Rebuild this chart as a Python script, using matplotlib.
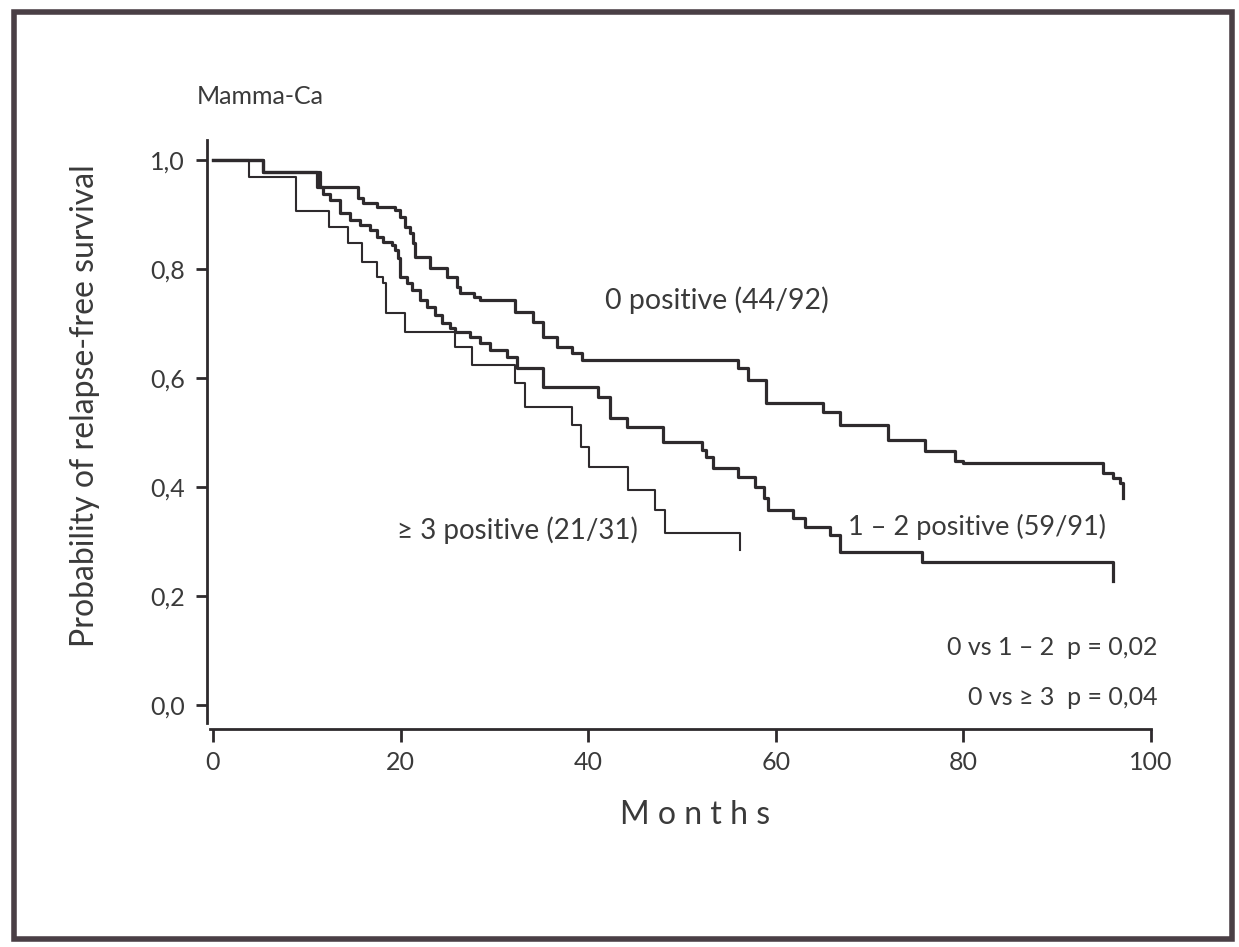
import matplotlib
matplotlib.use("Agg")
import matplotlib.pyplot as plt
from matplotlib.patches import Rectangle

plt.rcParams['font.family'] = ['Lato', 'DejaVu Sans']

# 0 positive (44/92)
t_neg = [0, 5.3, 11.4, 15.5, 16.0, 17.5, 19.4, 19.9, 20.5, 21.0,
         21.3, 21.5, 23.1, 25.0, 26.0, 26.3, 27.8, 28.5, 32.2, 34.1,
         35.2, 36.7, 38.3, 39.3, 56.0, 57.0, 59.0, 65.0, 66.8, 72.0,
         75.9, 79.1, 80.0, 94.9, 96.0, 96.7, 97.0]
s_neg = [1.0, 0.978, 0.951, 0.930, 0.921, 0.914, 0.908, 0.895, 0.877, 0.866,
         0.848, 0.822, 0.802, 0.785, 0.767, 0.756, 0.749, 0.743, 0.721, 0.703,
         0.675, 0.657, 0.646, 0.633, 0.618, 0.596, 0.554, 0.538, 0.514, 0.486,
         0.466, 0.448, 0.444, 0.426, 0.417, 0.407, 0.380]

# 1-2 positive (59/91)
t_12 = [0, 5.3, 11.1, 11.7, 12.5, 13.5, 14.6, 15.7, 16.7, 17.5,
        18.1, 19.1, 19.4, 19.7, 19.9, 20.7, 21.2, 22.1, 22.8, 23.7,
        24.4, 25.3, 25.8, 27.4, 28.5, 29.5, 31.3, 32.4, 35.2, 41.0,
        42.3, 44.1, 48.0, 52.1, 52.6, 53.3, 56.0, 57.8, 58.8, 59.2,
        61.8, 63.1, 65.8, 66.8, 75.6, 96.0]
s_12 = [1.0, 0.978, 0.951, 0.938, 0.927, 0.903, 0.890, 0.881, 0.872, 0.859,
        0.850, 0.844, 0.835, 0.820, 0.785, 0.774, 0.761, 0.743, 0.730, 0.716,
        0.701, 0.692, 0.684, 0.675, 0.664, 0.651, 0.639, 0.618, 0.583, 0.565,
        0.527, 0.510, 0.483, 0.468, 0.455, 0.435, 0.418, 0.400, 0.380, 0.358,
        0.343, 0.327, 0.312, 0.281, 0.262, 0.228]

# >=3 positive (21/31)
t_3 = [0, 3.8, 8.9, 12.4, 14.4, 15.9, 17.5, 18.1, 18.4, 20.5,
       25.8, 27.6, 32.2, 33.3, 38.3, 39.2, 40.1, 44.2, 47.1, 48.2, 56.2]
s_3 = [1.0, 0.968, 0.906, 0.877, 0.848, 0.813, 0.785, 0.774, 0.719, 0.684,
       0.657, 0.624, 0.590, 0.547, 0.514, 0.473, 0.437, 0.394, 0.358, 0.316, 0.285]

y_ticks = [0.0, 0.2, 0.4, 0.6, 0.8, 1.0]
y_labels = ["0,0", "0,2", "0,4", "0,6", "0,8", "1,0"]
x_ticks = [0, 20, 40, 60, 80, 100]
x_labels = ["0", "20", "40", "60", "80", "100"]

ink = "#2e2a2d"
txt = "#3a3a3a"

fig = plt.figure(figsize=(12.39, 9.47), dpi=100)
ax = fig.add_axes([0.1643, 0.2268, 0.7722, 0.6330])

ax.step(t_neg, s_neg, where="post", color=ink, lw=2.3)
ax.step(t_12, s_12, where="post", color=ink, lw=2.3)
ax.step(t_3, s_3, where="post", color=ink, lw=1.5)

ax.set_xlim(-1, 101)
ax.set_ylim(-0.05, 1.05)

# detached axes like the printed figure
ax.spines["top"].set_visible(False)
ax.spines["right"].set_visible(False)
ax.spines["left"].set_position(("data", -0.64))
ax.spines["bottom"].set_position(("data", -0.044))
ax.spines["left"].set_bounds(-0.033, 1.037)
ax.spines["bottom"].set_bounds(-0.3, 100)
for sp in ("left", "bottom"):
    ax.spines[sp].set_color(ink)
    ax.spines[sp].set_linewidth(2.0)

ax.set_yticks(y_ticks)
ax.set_yticklabels(y_labels)
ax.set_xticks(x_ticks)
ax.set_xticklabels(x_labels)
ax.tick_params(axis="y", length=8, width=2, color=ink, pad=8, labelsize=18, labelcolor=txt)
ax.tick_params(axis="x", length=9, width=2, color=ink, pad=7, labelsize=18, labelcolor=txt)

ax.text(41.8, 0.743, "0 positive (44/92)", fontsize=20.5, color=txt, va="center", ha="left")
ax.text(19.6, 0.321, "≥ 3 positive (21/31)", fontsize=20, color=txt, va="center", ha="left")
ax.text(67.7, 0.327, "1 – 2 positive (59/91)", fontsize=19.5, color=txt, va="center", ha="left")
ax.text(100.7, 0.105, "0 vs 1 – 2  p = 0,02", fontsize=18, color=txt, va="center", ha="right")
ax.text(100.7, 0.013, "0 vs ≥ 3  p = 0,04", fontsize=18, color=txt, va="center", ha="right")

fig.text(0.159, 0.8976, "Mamma-Ca", fontsize=18, color=txt, va="center", ha="left")
fig.text(0.0686, 0.572, "Probability of relapse-free survival", fontsize=23,
         color=txt, rotation=90, va="center", ha="center")
fig.text(0.561, 0.139, "M o n t h s", fontsize=23, color=txt, va="center", ha="center")

# scanned page frame
fig.patches.append(Rectangle((0.011, 0.008), 0.983, 0.979, transform=fig.transFigure,
                             fill=False, edgecolor="#4a3f45", lw=4))

fig.savefig("out.png", dpi=100)
